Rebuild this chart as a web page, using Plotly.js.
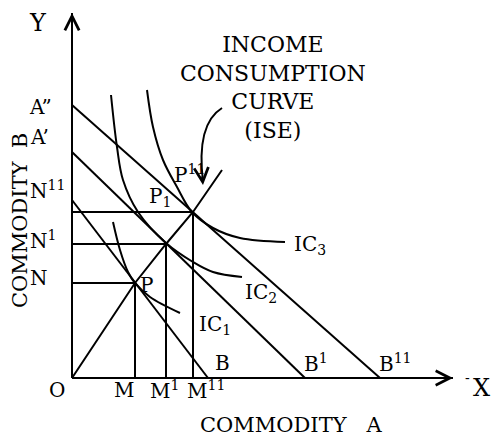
<!DOCTYPE html>
<html>
<head>
<meta charset="utf-8">
<script src="https://cdn.plot.ly/plotly-3.0.1.min.js"></script>
<style>html,body{margin:0;padding:0;background:#fff;}</style>
</head>
<body>
<div id="chart" style="width:491px;height:438px;"></div>
<script>
// Budget lines: y-intercepts (A'', A', A) and x-intercepts (B'', B', B)
const budgetA = [273, 226, 178];
const budgetB = [308, 233, 136];
// Equilibrium quantities (M, M1, M11) and (N, N1, N11)
const eqX = [63, 94, 121];
const eqY = [95, 134, 166];
// Income consumption curve
const iccX = [0, 63, 94, 121, 150];
const iccY = [0, 95, 134, 166, 208];
// Indifference curves
const ic1X = [41, 48, 56, 63, 78, 108];
const ic1Y = [156, 128, 106, 95, 81, 65];
const ic2X = [39, 45, 51, 66, 94, 121, 141, 170];
const ic2Y = [283, 231, 198, 166, 135, 116, 106, 101];
const ic3X = [75, 81, 91, 105, 120, 141, 168, 213];
const ic3Y = [288, 251, 218, 191, 166, 150, 140, 136];
// Axis extents
const axisX = [0, 381];
const axisY = [0, 365];

const black = '#000';
const ln = (x, y, extra) => Object.assign({type:'scatter', mode:'lines', x:x, y:y, hoverinfo:'skip', showlegend:false, line:{color:black, width:2}}, extra||{});

const traces = [];
// axes
traces.push(ln([axisX[0], axisX[1]], [0, 0]));
traces.push(ln([0, 0], [axisY[0], axisY[1]]));
// budget lines
for (let i = 0; i < budgetA.length; i++) {
  traces.push(ln([0, budgetB[i]], [budgetA[i], 0]));
}
// guide lines to equilibrium points
for (let i = 0; i < eqX.length; i++) {
  traces.push(ln([0, eqX[i]], [eqY[i], eqY[i]]));
  traces.push(ln([eqX[i], eqX[i]], [eqY[i], 0]));
}
// ICC
traces.push(ln(iccX, iccY));
// indifference curves
traces.push(ln(ic1X, ic1Y, {line:{color:black, width:2, shape:'spline', smoothing:1}}));
traces.push(ln(ic2X, ic2Y, {line:{color:black, width:2, shape:'spline', smoothing:1}}));
traces.push(ln(ic3X, ic3Y, {line:{color:black, width:2, shape:'spline', smoothing:1}}));

const F = 'DejaVu Serif, Liberation Serif, serif';
const lab = (text, x, y, opts) => Object.assign({text:text, x:x, y:y, xref:'x', yref:'y', showarrow:false, font:{family:F, size:20, color:black}, xanchor:'center', yanchor:'middle'}, opts||{});

const annotations = [
  // axis arrows
  {x:axisX[1], y:0, ax:axisX[1]-12, ay:0, xref:'x', yref:'y', axref:'x', ayref:'y', showarrow:true, arrowhead:5, arrowsize:1.4, arrowwidth:2, arrowcolor:black, text:''},
  {x:0, y:axisY[1], ax:0, ay:axisY[1]-12, xref:'x', yref:'y', axref:'x', ayref:'y', showarrow:true, arrowhead:5, arrowsize:1.4, arrowwidth:2, arrowcolor:black, text:''},
  // curved arrow head
  {x:131, y:193, ax:130, ay:203, xref:'x', yref:'y', axref:'x', ayref:'y', showarrow:true, arrowhead:5, arrowsize:1.4, arrowwidth:2, arrowcolor:black, text:''},
  lab('Y', -34, 355, {font:{family:F, size:24, color:black}}),
  lab('X', 409, -10, {font:{family:F, size:24, color:black}}),
  lab('-', 395, 0, {font:{family:F, size:14, color:black}}),
  lab('A\u201D', -32, 271),
  lab('A\u2019', -33, 241),
  lab('N<sup>11</sup>', -44, 188, {xanchor:'left'}),
  lab('N<sup>1</sup>', -44, 138, {xanchor:'left'}),
  lab('N', -44, 100, {xanchor:'left'}),
  lab('O', -15, -12),
  lab('M', 52, -12),
  lab('M<sup>1</sup>', 76, -12, {xanchor:'left'}),
  lab('M<sup>11</sup>', 113, -12, {xanchor:'left'}),
  lab('B', 141, 15, {xanchor:'left'}),
  lab('B<sup>1</sup>', 230, 15, {xanchor:'left'}),
  lab('B<sup>11</sup>', 305, 15, {xanchor:'left'}),
  lab('IC<sub>1</sub>', 125, 53, {xanchor:'left'}),
  lab('IC<sub>2</sub>', 171, 85, {xanchor:'left'}),
  lab('IC<sub>3</sub>', 220, 133, {xanchor:'left'}),
  lab('P', 66, 93, {xanchor:'left'}),
  lab('P<sub>1</sub>', 75, 181, {xanchor:'left'}),
  lab('P<sup>11</sup>', 100, 204, {xanchor:'left'}),
  lab('INCOME<br>CONSUMPTION<br>CURVE<br>(ISE)', 201, 291, {font:{family:F, size:22, color:black}}),
  lab('COMMODITY\u00A0\u00A0\u00A0A', 219, -47, {font:{family:F, size:21, color:black}}),
  lab('COMMODITY\u00A0\u00A0B', -52, 157, {textangle:-90, font:{family:F, size:21, color:black}})
];

const shapes = [
  {type:'path', xref:'x', yref:'y', path:'M150,270 Q124,254 131,196', line:{color:black, width:2}}
];

const layout = {
  width:491, height:438,
  margin:{l:0, r:0, t:0, b:0},
  paper_bgcolor:'#fff', plot_bgcolor:'#fff',
  xaxis:{range:[-72, 419], visible:false, fixedrange:true},
  yaxis:{range:[-60, 378], visible:false, fixedrange:true},
  showlegend:false,
  annotations:annotations,
  shapes:shapes
};

Plotly.newPlot('chart', traces, layout, {displayModeBar:false, staticPlot:true});
</script>
</body>
</html>
